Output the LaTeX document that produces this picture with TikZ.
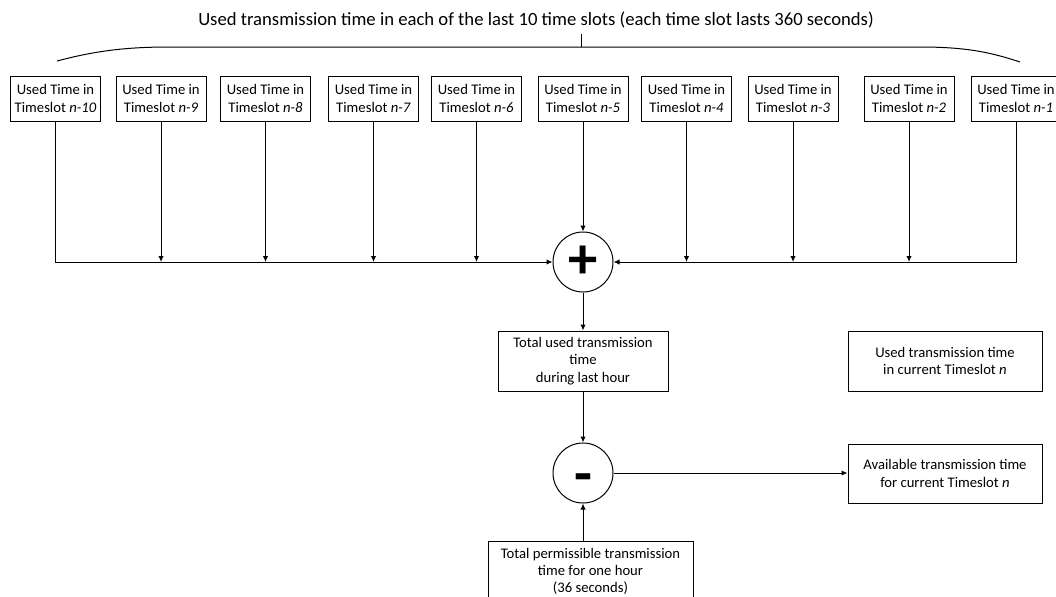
\documentclass[tikz,border=0pt]{standalone}
\usepackage{fontspec}
\setmainfont{Carlito}
\usetikzlibrary{arrows.meta, positioning}

\begin{document}
\begin{tikzpicture}[x=0.75pt, y=-0.75pt, >={Latex[length=4.5pt,width=4pt]}, line width=0.75pt,
		every node/.style={font=\fontsize{11}{13}\selectfont, align=center, line width=0.75pt},
		slotbox/.style={draw, rectangle, minimum width=67.5pt, minimum height=33.75pt, inner sep=1pt},
		infobox/.style={draw, rectangle, minimum height=45pt, inner sep=1pt},
		opcircle/.style={draw, circle, minimum size=45pt, inner sep=0pt, font=\fontsize{44}{44}\selectfont\bfseries}]
		\clip (0,0) rectangle (1056,596);

		\node [anchor=base, font=\fontsize{14}{16}\selectfont] (title) at (536,26) {Used transmission time in each of the last 10 time slots (each time slot lasts 360 seconds)};

		\node [slotbox] (t10) at (55.5,98.5) {Used Time in\\Timeslot \textit{n-10}};
		\node [slotbox] (t9) at (161,98.5) {Used Time in\\Timeslot \textit{n-9}};
		\node [slotbox] (t8) at (265.5,98.5) {Used Time in\\Timeslot \textit{n-8}};
		\node [slotbox] (t7) at (373.5,98.5) {Used Time in\\Timeslot \textit{n-7}};
		\node [slotbox] (t6) at (476.5,98.5) {Used Time in\\Timeslot \textit{n-6}};
		\node [slotbox] (t5) at (583,98.5) {Used Time in\\Timeslot \textit{n-5}};
		\node [slotbox] (t4) at (686.5,98.5) {Used Time in\\Timeslot \textit{n-4}};
		\node [slotbox] (t3) at (793,98.5) {Used Time in\\Timeslot \textit{n-3}};
		\node [slotbox] (t2) at (909,98.5) {Used Time in\\Timeslot \textit{n-2}};
		\node [slotbox] (t1) at (1016,98.5) {Used Time in\\Timeslot \textit{n-1}};

		% brace over the time slots
		\coordinate (bracemid) at (581,47);
		\draw (57,61) .. controls (95,51) and (125,47) .. (170,47) -- (920,47) .. controls (965,47) and (990,52) .. (1020,62);
		\draw (bracemid) -- (bracemid |- title.south);

		\node [opcircle] (sum) at (583,262) {+};
		\node [infobox, minimum width=127.5pt] (total) at (583,361) {Total used transmission\\time\\during last hour};
		\node [opcircle] (diff) at (583,473) {\raisebox{-15.5pt}[0pt][0pt]{-}};
		\node [infobox, minimum width=153.75pt, anchor=north] (permit) at (590.5,541) {Total permissible transmission\\time for one hour\\(36 seconds)};
		\node [infobox, minimum width=145.5pt] (current) at (945,361) {Used transmission time\\in current Timeslot \textit{n}};
		\node [infobox, minimum width=145.5pt, minimum height=44.25pt] (avail) at (945,473.5) {Available transmission time\\for current Timeslot \textit{n}};

		\draw[->] (t10) |- (sum);
		\draw[->] (t1) |- (sum);
		\draw[->] (t9) -- (t9 |- sum);
		\draw[->] (t8) -- (t8 |- sum);
		\draw[->] (t7) -- (t7 |- sum);
		\draw[->] (t6) -- (t6 |- sum);
		\draw[->] (t5) -- (sum);
		\draw[->] (t4) -- (t4 |- sum);
		\draw[->] (t3) -- (t3 |- sum);
		\draw[->] (t2) -- (t2 |- sum);

		\draw[->] (sum) -- (total);
		\draw[->] (total) -- (diff);
		\draw[->] (permit.north -| diff) -- (diff);
		\draw[->] (diff.east) -- (diff.east -| avail.west);
	\end{tikzpicture}
\end{document}
